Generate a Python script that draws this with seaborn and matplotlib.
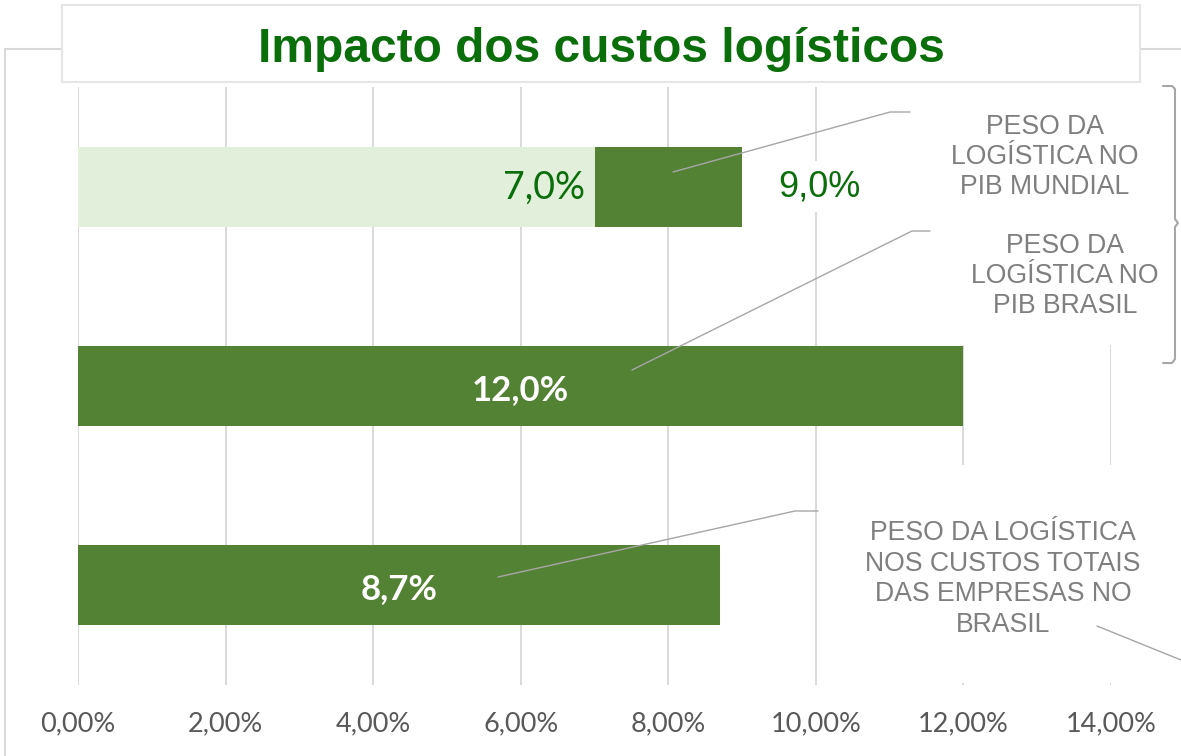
import numpy as np
import pandas as pd
import seaborn as sns
import matplotlib.pyplot as plt
from matplotlib.patches import Rectangle
from matplotlib.lines import Line2D
from matplotlib.ticker import FuncFormatter

# dados (em %)
categorias = ["PIB MUNDIAL", "PIB BRASIL", "CUSTOS EMPRESAS"]
base = [7.0, 0.0, 0.0]
total = [9.0, 12.0, 8.7]
rotulos = ["PESO DA\nLOGÍSTICA NO\nPIB MUNDIAL",
           "PESO DA\nLOGÍSTICA NO\nPIB BRASIL",
           "PESO DA LOGÍSTICA\nNOS CUSTOS TOTAIS\nDAS EMPRESAS NO\nBRASIL"]
ticks = [0, 2, 4, 6, 8, 10, 12, 14]
titulo = "Impacto dos custos logísticos"

df = pd.DataFrame({"categoria": categorias, "base": base, "total": total})

W, H = 1181, 756


def px(x, y):
    # pixel da imagem -> fração da figura
    return x / W, 1 - y / H


escuro = "#548235"
claro = "#E2EFDA"
verde = "#0A6E0A"
cinza = "#7F7F7F"
linha = "#A6A6A6"

sns.set_style("white")
plt.rcParams["font.family"] = ["Lato", "DejaVu Sans"]

fig = plt.figure(figsize=(W / 100, H / 100), dpi=100)
ax = fig.add_axes([78 / W, 1 - 685 / H, (1111 - 78) / W, (685 - 87) / H])

sns.barplot(data=df, x="total", y="categoria", color=escuro, saturation=1,
            width=0.4, orient="h", linewidth=0, ax=ax)
sns.barplot(data=df, x="base", y="categoria", color=claro, saturation=1,
            width=0.4, orient="h", linewidth=0, ax=ax)

ax.set_xlim(0, 14)
ax.set_ylim(2.5, -0.5)
ax.set_xticks(ticks)
ax.xaxis.set_major_formatter(FuncFormatter(lambda v, p: f"{v:.2f}%".replace(".", ",")))
ax.set_yticks([])
ax.set_xlabel("")
ax.set_ylabel("")
ax.xaxis.grid(True, color="#D9D9D9", lw=1.4)
ax.set_axisbelow(True)
sns.despine(ax=ax, left=True, bottom=True)
ax.tick_params(axis="x", length=0, pad=19, labelsize=19.5, labelcolor="#595959")


def fmt(v):
    return f"{v:.1f}%".replace(".", ",")


for i, (b, t) in enumerate(zip(base, total)):
    if b > 0:
        ax.annotate(fmt(b), xy=(b, i), xytext=(-7, -1), textcoords="offset points",
                    ha="right", va="center", color=verde, fontsize=27)
        ax.annotate(fmt(t), xy=(t, i), xytext=(56, 0), textcoords="offset points",
                    ha="center", va="center", color=verde, fontsize=26,
                    family="Liberation Sans",
                    bbox=dict(facecolor="white", edgecolor="none", pad=6))
    else:
        ax.annotate(fmt(t), xy=(t / 2, i), xytext=(0, -3), textcoords="offset points",
                    ha="center", va="center", color="white",
                    fontsize=25, fontweight="bold")

# moldura externa e caixa do título
x0, y0 = px(5, 756 + 20)
x1, y1 = px(1181 + 20, 49)
fig.add_artist(Rectangle((x0, y0), x1 - x0, y1 - y0, transform=fig.transFigure,
                         facecolor="none", edgecolor="#D9D9D9", lw=1.5, zorder=1))
x0, y0 = px(62, 82)
x1, y1 = px(1140, 5)
fig.add_artist(Rectangle((x0, y0), x1 - x0, y1 - y0, transform=fig.transFigure,
                         facecolor="white", edgecolor="#E6E6E6", lw=1.5, zorder=3))
fig.text(*px(601, 49), titulo, ha="center", va="center", color=verde,
         fontsize=34.5, fontweight="bold", family="Liberation Sans", zorder=4)

# caixas brancas dos rótulos
for (a, b, c, d) in [(905, 85, 1160, 221), (925, 219, 1160, 345), (850, 465, 1160, 683)]:
    x0, y0 = px(a, d)
    x1, y1 = px(c, b)
    fig.add_artist(Rectangle((x0, y0), x1 - x0, y1 - y0, transform=fig.transFigure,
                             facecolor="white", edgecolor="none", zorder=1))

# linhas de chamada
chamadas = [[(673, 172), (890, 112), (910, 112)],
            [(632, 370), (912, 231), (930, 231)],
            [(498, 577), (795, 511), (818, 511)],
            [(1097, 626), (1181, 660)]]
for pts in chamadas:
    xs, ys = zip(*[px(x, y) for x, y in pts])
    fig.add_artist(Line2D(xs, ys, transform=fig.transFigure, color=linha, lw=1, zorder=2))

# chave à direita
chave = [(1163, 86), (1172, 86), (1175, 89), (1175, 219), (1178, 223),
         (1175, 227), (1175, 359), (1172, 363), (1163, 363)]
xs, ys = zip(*[px(x, y) for x, y in chave])
fig.add_artist(Line2D(xs, ys, transform=fig.transFigure, color=linha, lw=1.5, zorder=2))

for (x, y), txt in zip([(1045, 157), (1065, 276), (1003, 579)], rotulos):
    fig.text(*px(x, y), txt, ha="center", va="center", multialignment="center",
             color=cinza, fontsize=19.2, linespacing=1.22,
             family="Liberation Sans", zorder=3)

fig.savefig("out.png", dpi=100)
